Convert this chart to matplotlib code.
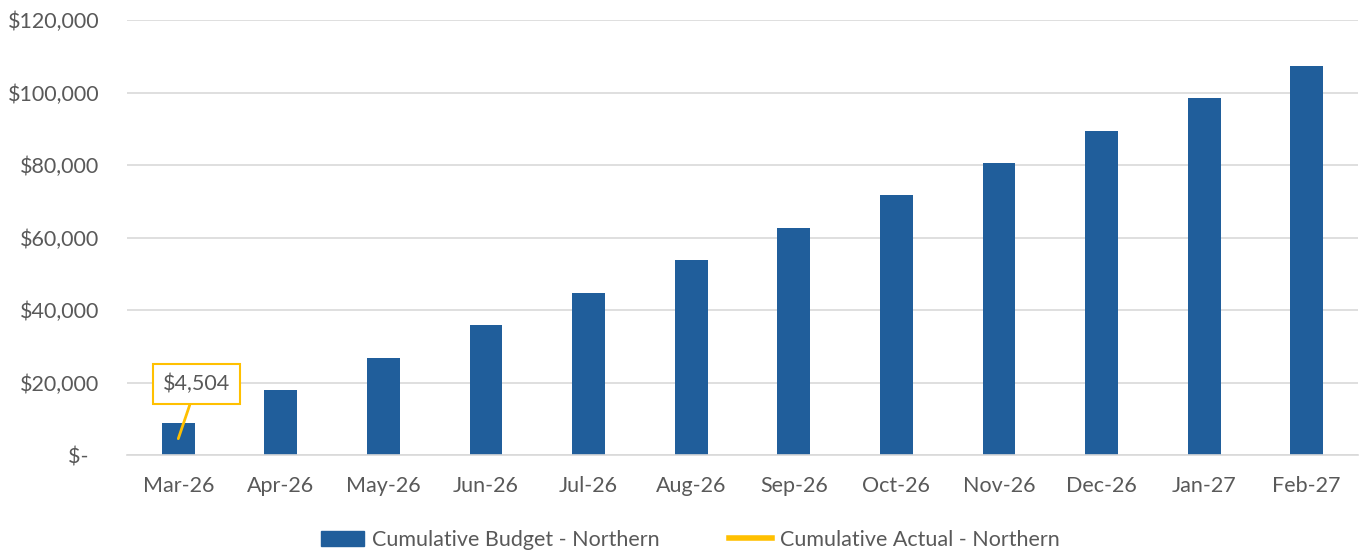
import matplotlib.pyplot as plt
from matplotlib.ticker import FuncFormatter
from matplotlib.lines import Line2D
from matplotlib.patches import Patch

plt.rcParams['font.family'] = ['Lato', 'DejaVu Sans']

months = ["Mar-26", "Apr-26", "May-26", "Jun-26", "Jul-26", "Aug-26",
          "Sep-26", "Oct-26", "Nov-26", "Dec-26", "Jan-27", "Feb-27"]
budget = [8950, 17900, 26850, 35800, 44750, 53700,
          62650, 71600, 80550, 89500, 98450, 107400]
actual = [4504]

blue = "#205E9B"
gold = "#FFC000"
grey = "#595959"
fs = 15.5

fig = plt.figure(figsize=(13.59, 5.53), dpi=100)
ax = fig.add_axes([127 / 1359, 1 - 455 / 553, (1358 - 127) / 1359, 435 / 553])

x = list(range(len(months)))
ax.bar(x, budget, width=0.32, color=blue, zorder=2)
ax.plot(x[:len(actual)], actual, color=gold, lw=3, zorder=3)

ax.set_xlim(-0.5, len(months) - 0.5)
ax.set_ylim(0, 120000)
ax.set_yticks(range(0, 120001, 20000))
# accounting style: zero shown as "$-" with padding on the right
ax.yaxis.set_major_formatter(FuncFormatter(lambda v, p: "$-  " if v == 0 else f"${v:,.0f}"))
ax.set_xticks(x)
ax.set_xticklabels(months)
ax.grid(axis="y", color="#D9D9D9", lw=1.2, zorder=0)
for s in ["top", "right", "left"]:
    ax.spines[s].set_visible(False)
ax.spines["bottom"].set_color("#D9D9D9")
ax.spines["bottom"].set_linewidth(1.2)
ax.tick_params(axis="both", length=0, labelsize=fs, colors=grey)
ax.tick_params(axis="x", pad=15)
ax.tick_params(axis="y", pad=20)

# callout for the actual value
ax.annotate(f"${actual[0]:,}", xy=(x[0], actual[0]), xytext=(x[0] + 0.18, 19500),
            ha="center", va="center", fontsize=fs, color=grey,
            bbox=dict(boxstyle="square,pad=0.45", fc="white", ec=gold, lw=1.5),
            arrowprops=dict(arrowstyle="-", color=gold, lw=2, shrinkA=0, shrinkB=0),
            zorder=4)

handles = [Patch(color=blue, label="Cumulative Budget - Northern"),
           Line2D([], [], color=gold, lw=4, label="Cumulative Actual - Northern")]
fig.legend(handles=handles, loc="center", bbox_to_anchor=(0.508, 1 - 540 / 553),
           ncol=2, frameon=False, fontsize=fs, labelcolor=grey,
           handlelength=2.0, handletextpad=0.4, columnspacing=3.2)

fig.savefig("out.png", dpi=100)
